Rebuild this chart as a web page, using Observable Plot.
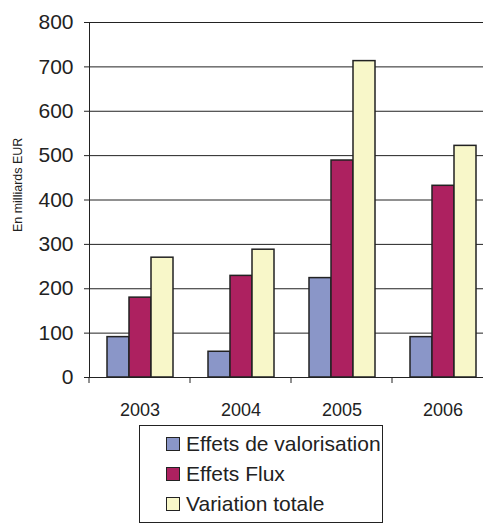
<!DOCTYPE html>
<html>
<head>
<meta charset="utf-8">
<script src="https://cdn.jsdelivr.net/npm/d3@7"></script>
<script src="https://cdn.jsdelivr.net/npm/@observablehq/plot@0.6"></script>
<style>
  html, body { margin: 0; padding: 0; background: #fff; }
  #wrap { width: 483px; overflow: hidden; font-family: "Liberation Sans", Arial, sans-serif; color: #222; }
  #wrap svg { display: block; max-width: none !important; }
  .legend { margin: 5px 0 0 139px; width: 244px; border: 1.5px solid #222; padding: 3px 0 0 0; box-sizing: border-box; height: 98px; }
  .legend .row { display: flex; align-items: center; height: 30px; font-size: 21px; padding-left: 26px; white-space: nowrap; }
  .legend .sw { width: 12px; height: 12px; border: 1.5px solid #222; margin-right: 6px; flex: none; }
</style>
</head>
<body>
<div id="wrap"></div>
<script>
// Années et séries
const years = ["2003", "2004", "2005", "2006"];
const series = ["Effets de valorisation", "Effets Flux", "Variation totale"];
const colors = ["#8a96c8", "#ad2160", "#f8f7c9"];

// Valeurs en milliards EUR
const valorisation = [91, 58, 224, 91];
const flux = [180, 229, 489, 432];
const total = [270, 288, 713, 522];

const yTicks = [0, 100, 200, 300, 400, 500, 600, 700, 800];
const yTitle = "En milliards EUR";

const values = [valorisation, flux, total];
const rows = years.flatMap((year, i) =>
  series.map((s, j) => ({year, series: s, value: values[j][i]}))
);

const chart = Plot.plot({
  width: 493,
  height: 420,
  marginTop: 22,
  marginBottom: 43,
  marginLeft: 89,
  marginRight: 0,
  style: {fontFamily: '"Liberation Sans", Arial, sans-serif', color: "#222", background: "#fff", overflow: "visible", maxWidth: "none"},
  fx: {domain: years, padding: 0, label: null},
  x: {domain: series, paddingInner: 0, paddingOuter: 0.73, axis: null},
  y: {domain: [0, 800], label: null},
  color: {domain: series, range: colors},
  marks: [
    Plot.gridY(yTicks, {stroke: "#222", strokeOpacity: 1, strokeWidth: 1}),
    Plot.barY(rows, {fx: "year", x: "series", y: "value", fill: "series", stroke: "#222", strokeWidth: 1.5}),
    Plot.axisY(yTicks, {tickSize: 5, tickPadding: 11, fontSize: 21, label: null, stroke: "#222"}),
    Plot.frame({anchor: "left", facetAnchor: "left", stroke: "#222"}),
    Plot.axisFx({anchor: "bottom", tickSize: 0, tickPadding: 26, fontSize: 18, label: null})
  ]
});

const fx = chart.scale("fx");
const y = chart.scale("y");
const y0 = y.apply(0);
const svg = d3.select(chart);

// Graduations entre les années sur l'axe horizontal
svg.append("g")
  .attr("stroke", "#222")
  .selectAll("line")
  .data(years)
  .join("line")
  .attr("x1", d => fx.apply(d))
  .attr("x2", d => fx.apply(d))
  .attr("y1", y0)
  .attr("y2", y0 + 6);

// Titre de l'axe vertical
svg.append("text")
  .attr("transform", `translate(21.5,${y.apply(433)}) rotate(-90)`)
  .attr("text-anchor", "middle")
  .attr("font-size", 12.5)
  .attr("fill", "#222")
  .text(yTitle);

const wrap = document.getElementById("wrap");
wrap.appendChild(chart);

// Légende
const legend = document.createElement("div");
legend.className = "legend";
series.forEach((s, i) => {
  const row = document.createElement("div");
  row.className = "row";
  const sw = document.createElement("span");
  sw.className = "sw";
  sw.style.background = colors[i];
  row.appendChild(sw);
  row.appendChild(document.createTextNode(s));
  legend.appendChild(row);
});
wrap.appendChild(legend);
</script>
</body>
</html>
